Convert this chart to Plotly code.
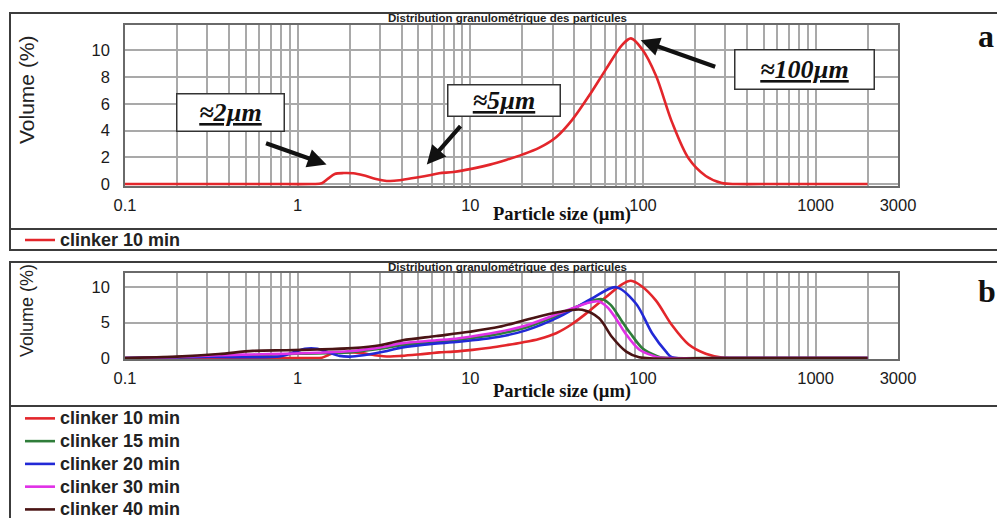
import math
import plotly.graph_objects as go

# ---------------- data ----------------
series_names = ["clinker 10 min", "clinker 15 min", "clinker 20 min", "clinker 30 min", "clinker 40 min"]
series_colors = ["#e3262b", "#2f7d3a", "#2229d6", "#e030e6", "#4a1414"]

size_10 = [0.1, 0.3, 0.7, 1.2, 1.38, 1.5, 1.64, 1.85, 2.1, 2.4, 2.8, 3.4, 4.0, 5.0, 5.8, 6.6, 8.0,
           10.3, 13.0, 16.1, 20.0, 25.0, 31.4, 38.9, 48.7, 61.1, 75.6, 85.2, 98.7, 119, 147, 184,
           231, 286, 350, 600, 1200, 2000]
vol_10 = [0.0, 0.0, 0.0, 0.0, 0.05, 0.4, 0.75, 0.82, 0.8, 0.65, 0.4, 0.22, 0.3, 0.5, 0.65, 0.8, 0.9,
          1.15, 1.45, 1.8, 2.2, 2.7, 3.5, 4.8, 6.6, 8.6, 10.4, 10.9, 10.1, 8.1, 4.65, 1.9,
          0.6, 0.07, 0.0, 0.0, 0.0, 0.0]

size_15 = [0.1, 0.3, 1.0, 2.0, 3.0, 4.0, 8.6, 14.7, 21.0, 32.7, 46.9, 57.9, 65.0, 75.0, 84.5, 100,
           120, 130, 300, 2000]
vol_15 = [0.0, 0.2, 0.6, 0.8, 1.3, 1.8, 2.6, 3.4, 4.3, 6.1, 7.8, 8.3, 7.5, 5.3, 3.5, 1.3,
          0.3, 0.05, 0.0, 0.0]

size_20 = [0.1, 0.3, 0.8, 0.95, 1.1, 1.3, 1.5, 1.75, 2.0, 2.4, 3.3, 4.05, 6.0, 8.6, 14.7, 21.0,
           32.7, 50.7, 69.8, 91, 113, 136, 147, 300, 2000]
vol_20 = [0.0, 0.15, 0.25, 0.8, 1.3, 1.3, 0.8, 0.3, 0.2, 0.4, 1.0, 1.5, 2.0, 2.3, 3.0, 3.9,
          5.8, 8.4, 10.0, 7.7, 3.5, 0.9, 0.1, 0.0, 0.0]

size_30 = [0.1, 0.2, 0.35, 0.55, 0.86, 1.3, 2.08, 3.0, 4.05, 6.4, 8.6, 14.7, 21.0, 32.7, 46.9,
           55.0, 62.0, 70.0, 79.0, 95.0, 115, 124, 300, 2000]
vol_30 = [0.0, 0.15, 0.4, 0.5, 0.6, 0.75, 1.0, 1.5, 2.1, 2.5, 2.8, 3.7, 4.6, 6.3, 7.7,
          8.0, 7.2, 5.5, 3.5, 1.2, 0.3, 0.05, 0.0, 0.0]

size_40 = [0.1, 0.2, 0.35, 0.55, 0.86, 1.3, 2.08, 3.0, 4.05, 6.36, 9.87, 14.7, 21.1, 32.7, 44.4,
           55.7, 66.0, 80.0, 95.0, 300, 2000]
vol_40 = [0.0, 0.2, 0.56, 1.0, 1.1, 1.2, 1.4, 1.8, 2.5, 3.1, 3.7, 4.4, 5.4, 6.5, 6.8,
          5.6, 3.0, 0.9, 0.1, 0.0, 0.0]

x_tick_vals = ([k * 0.1 for k in range(1, 10)] + list(range(1, 10)) + list(range(10, 100, 10))
               + list(range(100, 1000, 100)) + [1000, 2000, 3000])
x_tick_labels = {0.1: "0.1", 1: "1", 10: "10", 100: "100", 1000: "1000", 3000: "3000"}
y_ticks_a = [0, 2, 4, 6, 8, 10]
y_ticks_b = [0, 5, 10]

# ---------------- helpers ----------------
W, H = 997, 518
def px(x):
    return x / W
def py(y):
    return 1 - y / H

SANS = "Liberation Sans, Arial, sans-serif"
SERIF = "Liberation Serif, Times New Roman, serif"
GRID = "#a9a9a9"

tick_text = [x_tick_labels.get(round(v, 3) if v < 1 else v, "") for v in x_tick_vals]

fig = go.Figure()

# top panel
fig.add_trace(go.Scatter(x=size_10, y=vol_10, mode="lines", xaxis="x", yaxis="y",
                         name="<span style='font-size:18px'>" + series_names[0] + "</span>",
                         line=dict(color=series_colors[0], width=2.6, shape="spline", smoothing=0.9),
                         legend="legend"))

# bottom panel
all_sizes = [size_10, size_15, size_20, size_30, size_40]
all_vols = [vol_10, vol_15, vol_20, vol_30, vol_40]
for nm, col, xs, ys in zip(series_names, series_colors, all_sizes, all_vols):
    fig.add_trace(go.Scatter(x=xs, y=ys, mode="lines", xaxis="x2", yaxis="y2",
                             name="<span style='font-size:18px'>" + nm + "</span>",
                             line=dict(color=col, width=2.6, shape="spline", smoothing=0.9),
                             legend="legend2"))

xdom = [px(125), px(898)]
common_x = dict(type="log", range=[-1, math.log10(3000)], domain=xdom,
                tickmode="array", tickvals=x_tick_vals, ticktext=tick_text,
                showgrid=True, gridcolor=GRID, gridwidth=1.6, zeroline=False,
                showline=True, mirror=True, linecolor="#6a6a6a", linewidth=1.5,
                ticks="", ticklabelstandoff=3,
                tickfont=dict(family=SANS, size=16.5, color="#1a1a1a"))
common_y = dict(showgrid=True, gridcolor=GRID, gridwidth=1.6, zeroline=False,
                showline=True, mirror=True, linecolor="#6a6a6a", linewidth=1.5,
                ticks="", ticklabelstandoff=10,
                tickfont=dict(family=SANS, size=16.5, color="#1a1a1a"))

fig.update_layout(
    width=W, height=H, autosize=False,
    margin=dict(l=0, r=0, t=0, b=0, autoexpand=False),
    paper_bgcolor="white", plot_bgcolor="white",
    xaxis=dict(common_x, anchor="y"),
    yaxis=dict(common_y, anchor="x", domain=[py(186), py(25)], range=[-0.15, 11.9],
               tickmode="array", tickvals=y_ticks_a),
    xaxis2=dict(common_x, anchor="y2"),
    yaxis2=dict(common_y, anchor="x2", domain=[py(359), py(273)], range=[-0.14, 12.0],
                tickmode="array", tickvals=y_ticks_b),
    legend=dict(x=px(20), xanchor="left", y=py(240), yanchor="middle",
                bgcolor="rgba(0,0,0,0)", borderwidth=0, itemwidth=30,
                font=dict(family=SANS, size=15.3, color="#222", weight="bold")),
    legend2=dict(x=px(20), xanchor="left", y=py(402), yanchor="top",
                 bgcolor="rgba(0,0,0,0)", borderwidth=0, itemwidth=30,
                 font=dict(family=SANS, size=15.2, color="#222", weight="bold")),
    showlegend=True,
)

# frames
FR = "#3c3c3c"
shapes = [
    dict(type="rect", xref="paper", yref="paper", x0=px(10), x1=1.01, y0=py(250), y1=py(13),
         line=dict(color=FR, width=2)),
    dict(type="line", xref="paper", yref="paper", x0=px(10), x1=1.01, y0=py(229), y1=py(229),
         line=dict(color=FR, width=2)),
    dict(type="rect", xref="paper", yref="paper", x0=px(10), x1=1.01, y0=-0.02, y1=py(262),
         line=dict(color=FR, width=2)),
    dict(type="line", xref="paper", yref="paper", x0=px(10), x1=1.01, y0=py(406), y1=py(406),
         line=dict(color=FR, width=2)),
]
fig.update_layout(shapes=shapes)

def note(text, x, y, size, family=SANS, color="#222", **kw):
    d = dict(text=text, x=px(x), y=py(y), xref="paper", yref="paper", showarrow=False,
             xanchor="center", yanchor="middle", font=dict(family=family, size=size, color=color))
    d.update(kw)
    return d

ann = []
title_txt = "Distribution granulométrique des particules"
for yy in (18, 267):
    ann.append(note("<b>" + title_txt + "</b>", 508, yy, 11.5))
for yy, sz in ((90, 21), (311, 18)):
    ann.append(note("Volume (%)", 27, yy, sz, textangle=-90))
for yy in (215, 391):
    ann.append(note("<b>Particle size (µm)</b>", 562, yy, 18.5, family=SERIF, color="#111"))
for lab, yy in (("a", 36), ("b", 291)):
    ann.append(note("<b>" + lab + "</b>", 976, yy, 32, family=SERIF, color="#111", xanchor="left"))

# labelled boxes
boxes = [("≈2µm", 230, 112, 110, 40), ("≈5µm", 504, 101, 115, 34), ("≈100µm", 804, 69, 142, 42)]
for t, cx, cy, bw_, bh_ in boxes:
    ann.append(note("<b><i><u>" + t + "</u></i></b>", cx, cy, 26, family=SERIF, color="#111",
                    width=bw_ - 4, height=bh_ - 4, borderpad=0,
                    bordercolor="#333", borderwidth=1.5, bgcolor="white"))

# arrows (tips in data coordinates of the top panel)
arrows = [(1.47, 1.45, -62, -22), (5.6, 1.45, 35, -40), (97.0, 10.75, 76, 27)]
for xt, yt, ax, ay in arrows:
    ann.append(dict(text="", x=math.log10(xt), y=yt, xref="x", yref="y", ax=ax, ay=ay,
                    showarrow=True, arrowhead=2, arrowsize=0.9, arrowwidth=4.2, arrowcolor="#111"))

fig.update_layout(annotations=ann)

fig.write_html("out.html")
